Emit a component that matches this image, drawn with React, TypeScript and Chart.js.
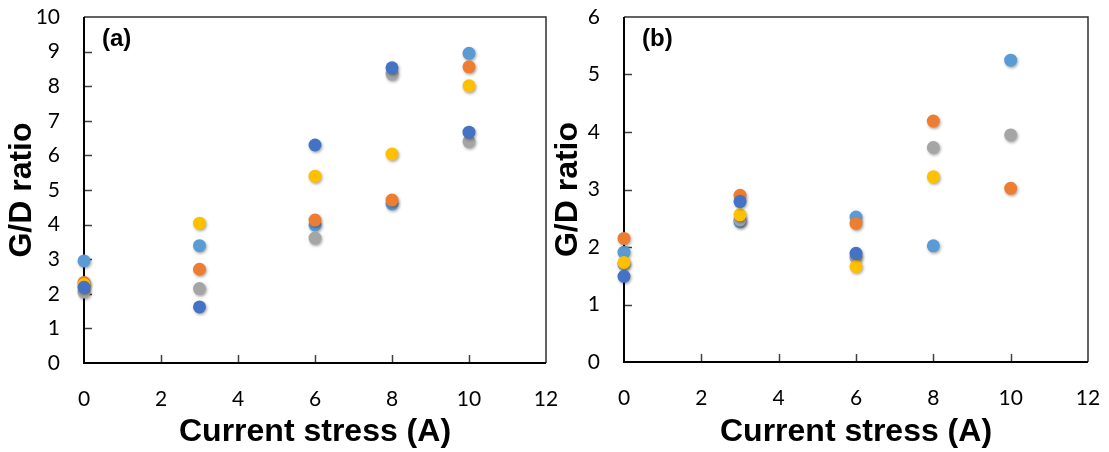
import React, { useEffect, useRef } from "react";
import { Chart, registerables } from "chart.js";

Chart.register(...registerables);

// ---- data ----
const currentStress = [0, 3, 6, 8, 10];
const seriesColors = ["#4472C4", "#FFC000", "#ED7D31", "#A5A5A5", "#5B9BD5"];
const seriesNames = ["Series 1", "Series 4", "Series 2", "Series 3", "Series 5"];

// panel (a)
const aDarkBlue = [2.19, 1.62, 6.3, 8.53, 6.67];
const aYellow = [2.27, 4.04, 5.4, 6.04, 8.01];
const aOrange = [2.33, 2.71, 4.13, 4.71, 8.56];
const aGray = [2.05, 2.15, 3.61, 8.35, 6.4];
const aLightBlue = [2.95, 3.39, 3.99, 4.6, 8.95];

// panel (b)
const bDarkBlue = [1.49, 2.79, 1.89, null, null];
const bYellow = [1.73, 2.56, 1.66, 3.22, null];
const bOrange = [2.15, 2.9, 2.41, 4.19, 3.02];
const bGray = [1.7, 2.47, 1.82, 3.73, 3.95];
const bLightBlue = [1.91, 2.44, 2.52, 2.02, 5.25];

const xTickStep = 2;
const xMax = 12;
const aYMax = 10;
const bYMax = 6;

const xTitle = "Current stress (A)";
const yTitle = "G/D ratio";

const W = 1109;
const H = 452;

type PanelCfg = {
  label: string;
  series: (number | null)[][];
  yMax: number;
  padLeft: number;
  padRight: number;
  yAxisWidth: number;
  xAxisHeight: number;
};

const panels: PanelCfg[] = [
  {
    label: "(a)",
    series: [aDarkBlue, aYellow, aOrange, aGray, aLightBlue],
    yMax: aYMax,
    padLeft: 0,
    padRight: W - 546,
    yAxisWidth: 84,
    xAxisHeight: 89,
  },
  {
    label: "(b)",
    series: [bDarkBlue, bYellow, bOrange, bGray, bLightBlue],
    yMax: bYMax,
    padLeft: 546,
    padRight: W - 1088,
    yAxisWidth: 78,
    xAxisHeight: 90,
  },
];

const framePlugin = {
  id: "frameAndShadow",
  beforeDatasetsDraw(chart: any) {
    const { ctx, chartArea } = chart;
    const { left, right, top, bottom } = chartArea;
    const xs = chart.scales.x;
    const ys = chart.scales.y;
    ctx.save();
    // ticks (inside)
    ctx.strokeStyle = "#404040";
    ctx.lineWidth = 1.5;
    ctx.beginPath();
    xs.ticks.forEach((t: any) => {
      const px = Math.round(xs.getPixelForValue(t.value)) + 0.5;
      if (t.value <= 0 || t.value >= xMax) return;
      ctx.moveTo(px, bottom);
      ctx.lineTo(px, bottom - 8);
    });
    ys.ticks.forEach((t: any) => {
      const py = Math.round(ys.getPixelForValue(t.value)) + 0.5;
      if (t.value <= 0 || t.value >= ys.max) return;
      ctx.moveTo(left, py);
      ctx.lineTo(left + 8, py);
    });
    ctx.stroke();
    // top/right border
    ctx.strokeStyle = "#303030";
    ctx.lineWidth = 1.5;
    ctx.beginPath();
    ctx.moveTo(left, top);
    ctx.lineTo(right, top);
    ctx.lineTo(right, bottom);
    ctx.stroke();
    // axes
    ctx.strokeStyle = "#000";
    ctx.lineWidth = 2;
    ctx.beginPath();
    ctx.moveTo(left, top);
    ctx.lineTo(left, bottom);
    ctx.lineTo(right, bottom);
    ctx.stroke();
    ctx.restore();

    // panel label
    ctx.save();
    ctx.fillStyle = "#000";
    ctx.font = "bold 24px 'Liberation Sans', Arial, sans-serif";
    ctx.textAlign = "left";
    ctx.textBaseline = "middle";
    ctx.fillText(chart.options.plugins.panelLabel.text, left + 18, 39);
    ctx.restore();

    ctx.save();
    ctx.shadowColor = "rgba(0,0,0,0.35)";
    ctx.shadowBlur = 3;
    ctx.shadowOffsetX = 1;
    ctx.shadowOffsetY = 1.5;
  },
  afterDatasetsDraw(chart: any) {
    chart.ctx.restore();
  },
};

const zeroPad = (s: any) => {
  s.paddingTop = 0;
  s.paddingBottom = 0;
  s.paddingLeft = 0;
  s.paddingRight = 0;
};

function Panel({ cfg }: { cfg: PanelCfg }) {
  const ref = useRef<HTMLCanvasElement | null>(null);
  useEffect(() => {
    if (!ref.current) return;
    const datasets = cfg.series.map((vals, i) => ({
      label: seriesNames[i],
      data: currentStress.map((x, j) => ({ x, y: vals[j] })),
      backgroundColor: seriesColors[i],
      borderColor: seriesColors[i],
      borderWidth: 0,
      pointRadius: 6.5,
      pointHoverRadius: 6.5,
      showLine: false,
      clip: false as any,
    }));
    const chart = new Chart(ref.current, {
      type: "scatter",
      data: { datasets: datasets as any },
      plugins: [framePlugin as any],
      options: {
        animation: false,
        responsive: false,
        events: [],
        layout: {
          padding: { left: cfg.padLeft, right: cfg.padRight, top: 17, bottom: 0 },
        },
        plugins: {
          legend: { display: false },
          tooltip: { enabled: false },
          panelLabel: { text: cfg.label },
        } as any,
        scales: {
          x: {
            type: "linear",
            min: 0,
            max: xMax,
            grid: { display: false, drawTicks: false },
            border: { display: false },
            ticks: {
              stepSize: xTickStep,
              padding: 24,
              color: "#000",
              font: { family: "Lato, 'Open Sans', sans-serif", size: 21 },
            },
            title: {
              display: true,
              text: xTitle,
              color: "#000",
              font: { family: "'Liberation Sans', Arial, sans-serif", size: 32, weight: "bold" },
              padding: { top: 0, bottom: 1 },
            },
            afterFit: (s: any) => {
              s.height = cfg.xAxisHeight;
              zeroPad(s);
            },
          },
          y: {
            type: "linear",
            min: 0,
            max: cfg.yMax,
            grid: { display: false, drawTicks: false },
            border: { display: false },
            ticks: {
              stepSize: 1,
              padding: 24,
              color: "#000",
              font: { family: "Lato, 'Open Sans', sans-serif", size: 21 },
            },
            title: {
              display: true,
              text: yTitle,
              color: "#000",
              font: { family: "'Liberation Sans', Arial, sans-serif", size: 32, weight: "bold" },
              padding: { top: 3, bottom: 0 },
            },
            afterFit: (s: any) => {
              s.width = cfg.yAxisWidth;
              zeroPad(s);
            },
          },
        },
      } as any,
    });
    return () => chart.destroy();
  }, [cfg]);
  return (
    <canvas
      ref={ref}
      width={W}
      height={H}
      style={{ position: "absolute", left: 0, top: 0, width: W, height: H }}
    />
  );
}

export default function App() {
  return (
    <div style={{ position: "absolute", left: 0, top: 0, width: W, height: H, background: "#fff" }}>
      {panels.map((p) => (
        <Panel key={p.label} cfg={p} />
      ))}
    </div>
  );
}
